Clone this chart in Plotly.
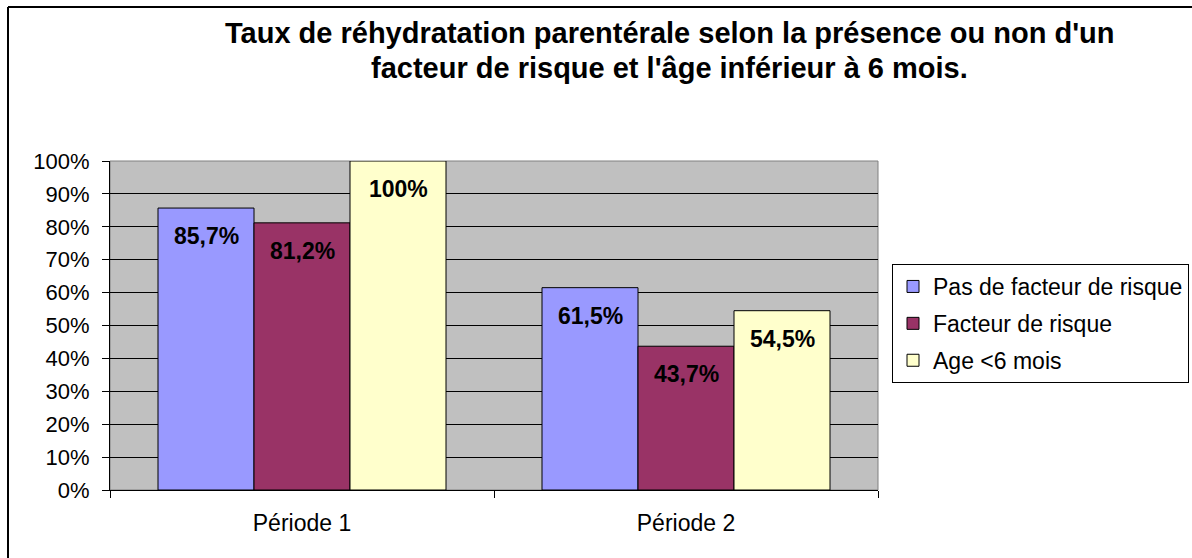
import plotly.graph_objects as go

categories = ["Période 1", "Période 2"]
series_names = ["Pas de facteur de risque", "Facteur de risque", "Age <6 mois"]
pas_facteur = [85.7, 61.5]
facteur = [81.2, 43.7]
age_6mois = [100.0, 54.5]
y_ticks = list(range(0, 101, 10))
title_lines = [
    "Taux de réhydratation parentérale selon la présence ou non d'un",
    "facteur de risque et l'âge inférieur à 6 mois.",
]

colors = ["#9999FF", "#993366", "#FFFFCC"]
series = [pas_facteur, facteur, age_6mois]

FONT = "Liberation Sans, Arial, sans-serif"

def fmt(v):
    if float(v).is_integer():
        return f"{int(v)}%"
    return f"{v:.1f}".replace(".", ",") + "%"

fig = go.Figure()
for name, vals, col in zip(series_names, series, colors):
    fig.add_trace(go.Bar(
        x=categories, y=vals, name=name, legendgroup=name,
        marker=dict(color=col, line=dict(color="black", width=1)),
        hoverinfo="skip",
    ))

# plot-area geometry (pixels)
L, R, T, B = 110, 878, 161, 490
W, H = 1192, 558
def px(xp):
    return (xp - L) / (R - L)
def py(yp):
    return (B - yp) / (B - T)

annotations = []
n = len(series)
group_w = 0.75
bw = group_w / n
for j, vals in enumerate(series):
    for i, v in enumerate(vals):
        annotations.append(dict(
            x=i - group_w / 2 + bw * (j + 0.5), y=v, xref="x", yref="y",
            text=f"<b>{fmt(v)}</b>", showarrow=False, yanchor="middle",
            yshift=-28, font=dict(family=FONT, size=23, color="black"),
        ))

for line, yc in zip(title_lines, [33, 68]):
    annotations.append(dict(
        x=px(669), y=py(yc), xref="paper", yref="paper",
        xanchor="center", yanchor="middle", showarrow=False,
        text=f"<b>{line}</b>", font=dict(family=FONT, size=29, color="black"),
    ))

shapes = [
    dict(type="rect", xref="paper", yref="paper", x0=0, x1=1, y0=0, y1=1,
         line=dict(color="#808080", width=1), layer="below"),
    dict(type="line", xref="paper", yref="paper", x0=px(8), x1=px(1200),
         y0=py(7), y1=py(7), line=dict(color="black", width=2)),
    dict(type="line", xref="paper", yref="paper", x0=px(8), x1=px(8),
         y0=py(7), y1=py(570), line=dict(color="black", width=2)),
]

fig.update_layout(
    width=W, height=H,
    margin=dict(l=L, r=W - R, t=T, b=H - B, autoexpand=False),
    paper_bgcolor="white", plot_bgcolor="#C0C0C0",
    barmode="group", bargap=0.25, bargroupgap=0,
    font=dict(family=FONT, size=22, color="black"),
    xaxis=dict(
        type="category", range=[-0.5, 1.5], tickson="boundaries",
        ticks="outside", ticklen=7, tickcolor="black", tickwidth=1,
        showline=True, linecolor="black", linewidth=1,
        showgrid=False, tickfont=dict(family=FONT, size=23),
        ticklabelstandoff=12,
    ),
    yaxis=dict(
        range=[0, 100], tickvals=y_ticks, ticktext=[f"{t}%" for t in y_ticks],
        ticks="outside", ticklen=7, tickcolor="black", tickwidth=1,
        showline=True, linecolor="black", linewidth=1,
        showgrid=True, gridcolor="black", gridwidth=1,
        zeroline=False, tickfont=dict(family=FONT, size=22),
        ticklabelstandoff=8,
    ),
    legend=dict(
        x=px(892), y=py(264), xanchor="left", yanchor="top",
        bgcolor="white", bordercolor="black", borderwidth=1,
        font=dict(family=FONT, size=23, color="black"),
        traceorder="grouped", tracegroupgap=4,
    ),
    annotations=annotations,
    shapes=shapes,
    showlegend=True,
)

fig.write_html("out.html", config={"displayModeBar": False},
               post_script="document.body.style.margin='0';")
